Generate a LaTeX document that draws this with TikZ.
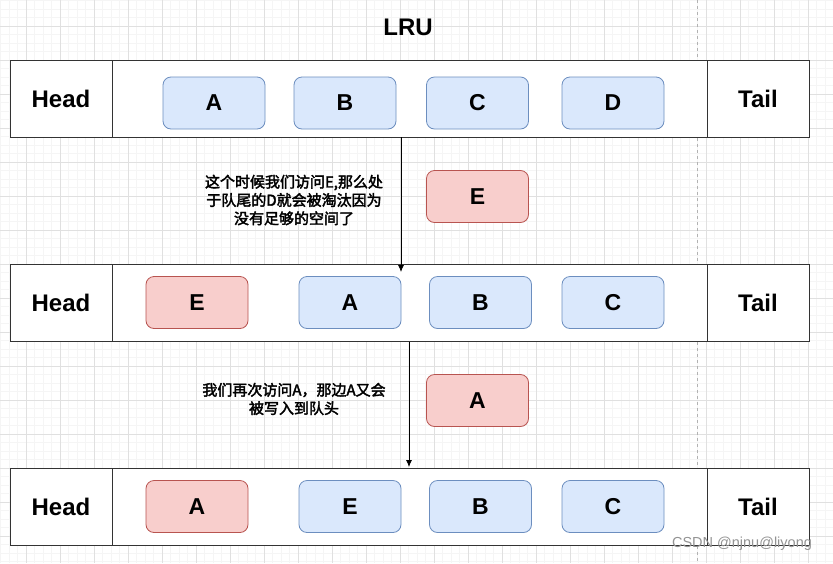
\documentclass[tikz,border=0pt]{standalone}
\usepackage{fontspec}
\setmainfont{Liberation Sans}
\newfontfamily\cjk{Noto Sans CJK SC}[AutoFakeBold=2.5]
\usetikzlibrary{positioning,arrows.meta}
\definecolor{blueFill}{HTML}{DAE8FC}
\definecolor{blueLine}{HTML}{6C8EBF}
\definecolor{redFill}{HTML}{F8CECC}
\definecolor{redLine}{HTML}{B85450}
\definecolor{gridMinor}{HTML}{F5F5F5}
\definecolor{gridMajor}{HTML}{E0E0E0}
\tikzstyle{cell} = [draw=black!80, line width=1pt, rectangle, outer sep=0pt, inner sep=0pt, minimum height=77, fill=white, font=\fontsize{24}{28}\selectfont\bfseries]
\tikzstyle{bluebox} = [draw=blueLine, line width=0.8pt, rectangle, rounded corners=8pt, minimum width=102, minimum height=52, fill=blueFill, font=\fontsize{23}{27}\selectfont\bfseries]
\tikzstyle{redbox} = [bluebox, draw=redLine, fill=redFill]
\tikzstyle{note} = [align=center, font=\cjk\fontsize{15}{18.3}\selectfont\bfseries]

\begin{document}
\begin{tikzpicture}[x=1pt, y=-1pt]
    \useasboundingbox (0,0) rectangle (833,563);
    % grid of the page
    \foreach \g in {0.5,9,...,833} {\draw[gridMinor, line width=0.8pt] (\g,0) -- (\g,563);}
    \foreach \g in {0.5,9,...,563} {\draw[gridMinor, line width=0.8pt] (0,\g) -- (833,\g);}
    \foreach \g in {26,60,...,833} {\draw[gridMajor, line width=0.8pt] (\g,0) -- (\g,563);}
    \foreach \g in {26,60,...,563} {\draw[gridMajor, line width=0.8pt] (0,\g) -- (833,\g);}
    \draw[gray!60, dashed, line width=0.8pt] (697,0) -- (697,563);

    \node [font=\fontsize{24}{28}\selectfont\bfseries] (title) at (408,27) {LRU};

    % the three queues
    \foreach \r/\y in {1/98.5, 2/303, 3/506.5} {
        \node [cell, minimum width=102] (head\r) at (61,\y) {Head};
        \node [cell, minimum width=595, right=0pt of head\r] (mid\r) {};
        \node [cell, minimum width=102, right=0pt of mid\r] (tail\r) {Tail};
    }

    \node [bluebox] (a1) at (214,103) {A};
    \node [bluebox] (b1) at (345,103) {B};
    \node [bluebox] (c1) at (477.5,103) {C};
    \node [bluebox] (d1) at (613,103) {D};

    \node [redbox]  (e2) at (197,302.5) {E};
    \node [bluebox] (a2) at (350,302.5) {A};
    \node [bluebox] (b2) at (480.5,302.5) {B};
    \node [bluebox] (c2) at (613,302.5) {C};

    \node [redbox]  (a3) at (197,506.5) {A};
    \node [bluebox] (e3) at (350,506.5) {E};
    \node [bluebox] (b3) at (480.5,506.5) {B};
    \node [bluebox] (c3) at (613,506.5) {C};

    % new visits
    \node [redbox] (newE) at (477.5,196.5) {E};
    \node [redbox] (newA) at (477.5,400.5) {A};

    \node [note] (note1) at (294,200) {这个时候我们访问E,那么处\\于队尾的D就会被淘汰因为\\没有足够的空间了};
    \node [note] (note2) at (294,399) {我们再次访问A，那边A又会\\被写入到队头};

    \coordinate (tip1) at (401,272);
    \coordinate (tip2) at (409,467);
    \draw [-{Latex[length=7pt,width=6pt]}, line width=0.8pt] (mid1.south -| tip1) -- (tip1);
    \draw [-{Latex[length=7pt,width=6pt]}, line width=0.8pt] (mid2.south -| tip2) -- (tip2);

    \node [text=gray!85, font=\fontsize{14.5}{17}\selectfont] (mark) at (742,544) {CSDN @njnu@liyong};
\end{tikzpicture}
\end{document}
